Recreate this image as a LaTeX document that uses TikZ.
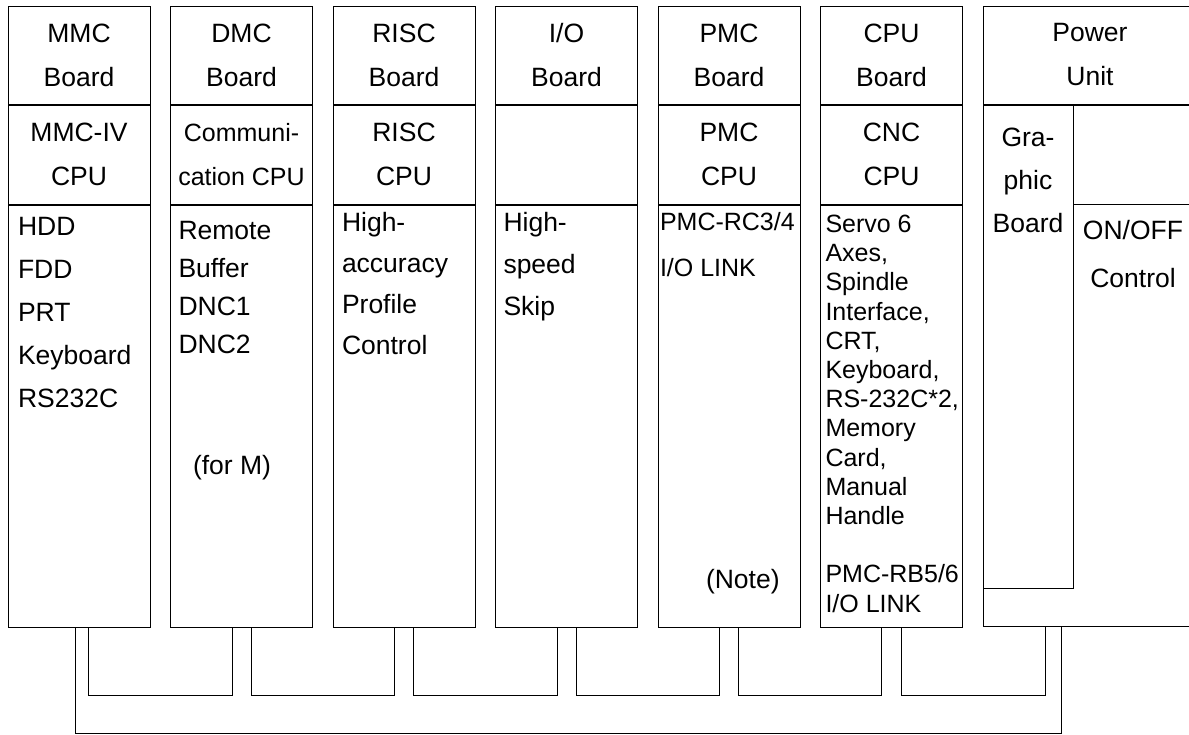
\documentclass[tikz,border=0pt]{standalone}
\usepackage{fontspec}
\setmainfont{Liberation Sans}
\usetikzlibrary{positioning}

\begin{document}
\begin{tikzpicture}[x=1pt, y=-1pt, line width=1pt,
      font=\fontsize{26.5}{44}\selectfont,
      node distance=19.5pt,
      hd/.style={draw, minimum width=142pt, minimum height=98pt, inner sep=0pt, align=center},
      md/.style={draw, minimum width=142pt, minimum height=99pt, inner sep=0pt, align=center},
      lw/.style={draw, minimum width=142pt, minimum height=422pt, inner sep=0pt},
      txt/.style={anchor=north west, align=left, inner sep=0pt}]
    \useasboundingbox (0,0) rectangle (1189,734);
    % boards
    \node[hd] (mmc) at (79,55) {MMC\\Board};
    \node[md, below=0pt of mmc] (mmc-c) {MMC-IV\\CPU};
    \node[lw, below=0pt of mmc-c] (mmc-l) {};
    \node[hd, right=of mmc] (dmc) {DMC\\Board};
    \node[md, below=0pt of dmc, font=\fontsize{25}{44}\selectfont] (dmc-c) {Communi-\\cation CPU};
    \node[lw, below=0pt of dmc-c] (dmc-l) {};
    \node[hd, right=of dmc] (risc) {RISC\\Board};
    \node[md, below=0pt of risc] (risc-c) {RISC\\CPU};
    \node[lw, below=0pt of risc-c] (risc-l) {};
    \node[hd, right=of risc] (io) {I/O\\Board};
    \node[md, below=0pt of io] (io-c) {};
    \node[lw, below=0pt of io-c] (io-l) {};
    \node[hd, right=of io] (pmc) {PMC\\Board};
    \node[md, below=0pt of pmc] (pmc-c) {PMC\\CPU};
    \node[lw, below=0pt of pmc-c] (pmc-l) {};
    \node[hd, right=of pmc] (cpu) {CPU\\Board};
    \node[md, below=0pt of cpu] (cpu-c) {CNC\\CPU};
    \node[lw, below=0pt of cpu-c] (cpu-l) {};
    \node[hd, minimum width=214pt, right=of cpu] (pwr) {Power\\Unit};
    \node[draw, minimum width=214pt, minimum height=521pt, inner sep=0pt, below=0pt of pwr] (pwr-l) {};
    \node[draw, minimum width=90pt, minimum height=483pt, inner sep=0pt, anchor=north west] (gfx) at (pwr-l.north west) {};
    \node[draw, minimum width=124pt, minimum height=99pt, inner sep=0pt, anchor=north east] (pwr-c) at (pwr-l.north east) {};
    % contents
    \node[txt, font=\fontsize{26.5}{43}\selectfont] at ([xshift=10pt, yshift=-12pt]mmc-l.north west) {HDD\\FDD\\PRT\\Keyboard\\RS232C};
    \node[txt, font=\fontsize{26.5}{38}\selectfont] at ([xshift=8pt, yshift=-16pt]dmc-l.north west) {Remote\\Buffer\\DNC1\\DNC2};
    \node[anchor=west, inner sep=0pt] at ([xshift=22.5pt, yshift=-52pt]dmc-l.west) {(for M)};
    \node[txt, font=\fontsize{26.5}{41}\selectfont] at ([xshift=9pt, yshift=-7pt]risc-l.north west) {High-\\accuracy\\Profile\\Control};
    \node[txt, font=\fontsize{26.5}{42}\selectfont] at ([xshift=8pt, yshift=-7pt]io-l.north west) {High-\\speed\\Skip};
    \node[txt, font=\fontsize{25}{46}\selectfont] at ([xshift=2pt, yshift=-7pt]pmc-l.north west) {PMC-RC3/4\\I/O LINK};
    \node[anchor=west, inner sep=0pt] at ([xshift=48pt, yshift=-166pt]pmc-l.west) {(Note)};
    \node[txt, font=\fontsize{25}{29.2}\selectfont] at ([xshift=5pt, yshift=-10pt]cpu-l.north west)
      {Servo 6\\Axes,\\Spindle\\Interface,\\CRT,\\Keyboard,\\RS-232C*2,\\Memory\\Card,\\Manual\\Handle\\[29.2pt]PMC-RB5/6\\I/O LINK};
    \node[anchor=north, align=center, inner sep=0pt, font=\fontsize{26.5}{43}\selectfont] at ([yshift=-23pt]gfx.north) {Gra-\\phic\\Board};
    \node[anchor=north, align=center, inner sep=0pt, font=\fontsize{26.5}{48}\selectfont] at ([xshift=-2pt, yshift=-15pt]pwr-c.south) {ON/OFF\\Control};
    % bus cables
    \draw ([xshift=9pt]mmc-l.south) -- ++(0,68) -| ([xshift=-9.5pt]dmc-l.south);
    \draw ([xshift=9.5pt]dmc-l.south) -- ++(0,68) -| ([xshift=-10pt]risc-l.south);
    \draw ([xshift=9pt]risc-l.south) -- ++(0,68) -| ([xshift=-9.5pt]io-l.south);
    \draw ([xshift=9.5pt]io-l.south) -- ++(0,68) -| ([xshift=-9.5pt]pmc-l.south);
    \draw ([xshift=9.5pt]pmc-l.south) -- ++(0,68) -| ([xshift=-10pt]cpu-l.south);
    \draw ([xshift=10pt]cpu-l.south) -- ++(0,68) -| ([xshift=-45pt]pwr-l.south);
    \draw ([xshift=-4pt]mmc-l.south) -- ++(0,106) -| ([xshift=-29pt]pwr-l.south);
  \end{tikzpicture}
\end{document}
